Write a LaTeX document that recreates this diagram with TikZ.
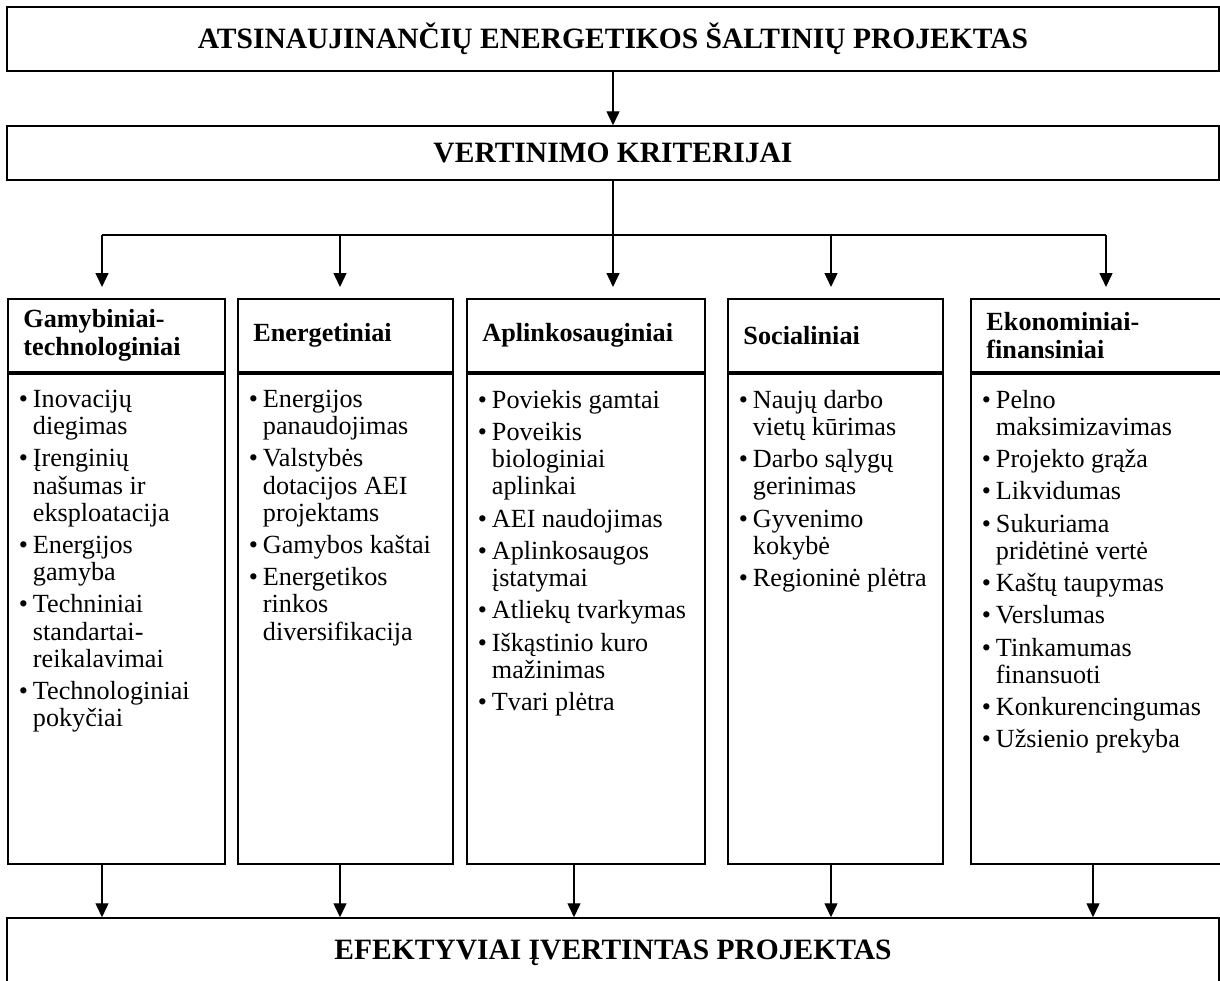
\documentclass[tikz,border=0pt]{standalone}
\usepackage{fontspec}
\setmainfont{Liberation Serif}
\usepackage{tikz}
\usetikzlibrary{arrows.meta}

\newcommand{\punktas}[1]{\hangindent=0.28cm\hangafter=1\noindent\makebox[0.28cm][l]{\textbullet}#1\par\vspace{0.1cm}}

\tikzset{
  deze/.style={draw, line width=0.85pt, minimum width=24.24cm, font=\fontsize{16.8}{19}\selectfont\bfseries},
  antraste/.style={draw, line width=1.1pt, anchor=north west, minimum height=1.46cm, inner xsep=0.31cm, inner ysep=0pt, align=left, font=\fontsize{14.9}{15.9}\selectfont\bfseries},
  sarasas/.style={draw, line width=1.1pt, anchor=north west, inner xsep=0.22cm, inner ysep=0pt, font=\fontsize{14.9}{15.5}\selectfont},
  rodykle/.style={-{Triangle[length=0.28cm,width=0.26cm]}, line width=0.8pt},
}

\begin{document}
\begin{tikzpicture}
   \useasboundingbox (0,0) rectangle (24.4,-19.6);

   \draw (12.26,-0.78) node[deze, minimum height=1.28cm] (projektas) {ATSINAUJINANČIŲ ENERGETIKOS ŠALTINIŲ PROJEKTAS};
   \draw (12.26,-3.06) node[deze, minimum height=1.08cm] (kriterijai) {VERTINIMO KRITERIJAI};
   \draw (12.26,-19.06) node[deze, minimum height=1.4cm] (efektyvus) {EFEKTYVIAI ĮVERTINTAS PROJEKTAS};

   % antrastes
   \draw (0.14,-5.96) node[antraste, text width=3.72cm] (gamybiniai) {Gamybiniai-\\technologiniai};
   \draw (4.74,-5.96) node[antraste, text width=3.68cm] (energetiniai) {Energetiniai};
   \draw (9.32,-5.96) node[antraste, text width=4.14cm] (aplinkosauginiai) {Aplinkosauginiai};
   \draw (14.54,-5.96) node[antraste, text width=3.68cm] (socialiniai) {Socialiniai};
   \draw (19.40,-5.96) node[antraste, text width=4.48cm] (ekonominiai) {Ekonominiai-\\finansiniai};

   % sarasai
   \draw (0.14,-7.46) node[sarasas] (gamybiniaisar) {\parbox[c][9.8cm][t]{3.9cm}{\vspace*{0.32cm}%
      \punktas{Inovacijų\\diegimas}
      \punktas{Įrenginių\\našumas ir\\eksploatacija}
      \punktas{Energijos\\gamyba}
      \punktas{Techniniai\\standartai-\\reikalavimai}
      \punktas{Technologiniai\\pokyčiai}}};
   \draw (4.74,-7.46) node[sarasas] (energetiniaisar) {\parbox[c][9.8cm][t]{3.86cm}{\vspace*{0.32cm}%
      \punktas{Energijos\\panaudojimas}
      \punktas{Valstybės\\dotacijos AEI\\projektams}
      \punktas{Gamybos kaštai}
      \punktas{Energetikos\\rinkos\\diversifikacija}}};
   \draw (9.32,-7.46) node[sarasas] (aplinkosauginiaisar) {\parbox[c][9.8cm][t]{4.32cm}{\vspace*{0.32cm}%
      \punktas{Poviekis gamtai}
      \punktas{Poveikis\\biologiniai\\aplinkai}
      \punktas{AEI naudojimas}
      \punktas{Aplinkosaugos\\įstatymai}
      \punktas{Atliekų tvarkymas}
      \punktas{Iškąstinio kuro\\mažinimas}
      \punktas{Tvari plėtra}}};
   \draw (14.54,-7.46) node[sarasas] (socialiniaisar) {\parbox[c][9.8cm][t]{3.86cm}{\vspace*{0.32cm}%
      \punktas{Naujų darbo\\vietų kūrimas}
      \punktas{Darbo sąlygų\\gerinimas}
      \punktas{Gyvenimo\\kokybė}
      \punktas{Regioninė plėtra}}};
   \draw (19.40,-7.46) node[sarasas] (ekonominiaisar) {\parbox[c][9.8cm][t]{4.66cm}{\vspace*{0.32cm}%
      \punktas{Pelno\\maksimizavimas}
      \punktas{Projekto grąža}
      \punktas{Likvidumas}
      \punktas{Sukuriama\\pridėtinė vertė}
      \punktas{Kaštų taupymas}
      \punktas{Verslumas}
      \punktas{Tinkamumas\\finansuoti}
      \punktas{Konkurencingumas}
      \punktas{Užsienio prekyba}}};

   % sakos
   \coordinate (s1) at (2.04,-4.7);
   \coordinate (s2) at (6.80,-4.7);
   \coordinate (s3) at (12.26,-4.7);
   \coordinate (s4) at (16.62,-4.7);
   \coordinate (s5) at (22.12,-4.7);
   \coordinate (d1) at (2.04,0);
   \coordinate (d2) at (6.80,0);
   \coordinate (d3) at (11.48,0);
   \coordinate (d4) at (16.62,0);
   \coordinate (d5) at (21.86,0);

     \path[rodykle] (projektas) edge (kriterijai);
     \draw[line width=0.8pt] (kriterijai) -- (s3);
     \draw[line width=1pt] (s1) -- (s5);
     \path[rodykle] (s1) edge[shorten >=0.22cm] (s1 |- gamybiniai.north);
     \path[rodykle] (s2) edge[shorten >=0.22cm] (s2 |- energetiniai.north);
     \path[rodykle] (s3) edge[shorten >=0.22cm] (s3 |- aplinkosauginiai.north);
     \path[rodykle] (s4) edge[shorten >=0.22cm] (s4 |- socialiniai.north);
     \path[rodykle] (s5) edge[shorten >=0.22cm] (s5 |- ekonominiai.north);

     \path[rodykle] (d1 |- gamybiniaisar.south) edge (d1 |- efektyvus.north);
     \path[rodykle] (d2 |- energetiniaisar.south) edge (d2 |- efektyvus.north);
     \path[rodykle] (d3 |- aplinkosauginiaisar.south) edge (d3 |- efektyvus.north);
     \path[rodykle] (d4 |- socialiniaisar.south) edge (d4 |- efektyvus.north);
     \path[rodykle] (d5 |- ekonominiaisar.south) edge (d5 |- efektyvus.north);

\end{tikzpicture}
\end{document}
